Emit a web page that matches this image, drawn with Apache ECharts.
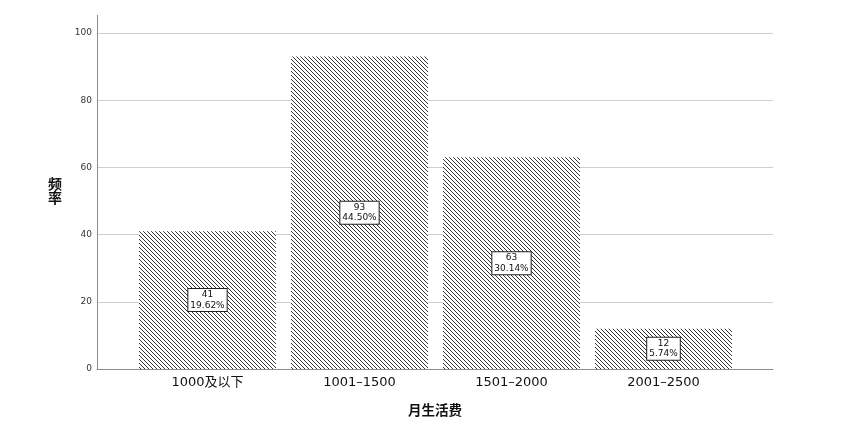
<!DOCTYPE html>
<html>
<head>
<meta charset="utf-8">
<script src="https://cdn.jsdelivr.net/npm/echarts@6/dist/echarts.min.js"></script>
<style>
  html, body { margin: 0; padding: 0; background: #fff; }
  #chart { width: 842px; height: 425px; }
</style>
</head>
<body>
<div id="chart"></div>
<script>
var categories = ['1000及以下', '1001–1500', '1501–2000', '2001–2500'];
var counts = [41, 93, 63, 12];
var percents = ['19.62%', '44.50%', '30.14%', '5.74%'];
var yTicks = [0, 20, 40, 60, 80, 100];

(function(){
  var el = document.getElementById('chart');
  var c = echarts.init(el, null, { renderer: 'canvas' });
  var font = '"DejaVu Sans", "Noto Sans CJK SC", sans-serif';
  var cjk = '"Noto Sans CJK SC", sans-serif';
  var axisGrey = '#8c8c8c';
  var gridGrey = '#cfcfcf';

  // diagonal hatch, lines running top-left to bottom-right
  function hatch() {
    var s = 4;
    var cv = document.createElement('canvas');
    cv.width = s; cv.height = s;
    var ctx = cv.getContext('2d');
    ctx.fillStyle = '#ffffff';
    ctx.fillRect(0, 0, s, s);
    ctx.strokeStyle = '#333333';
    ctx.lineWidth = 1;
    ctx.beginPath();
    ctx.moveTo(-1, -1); ctx.lineTo(s + 1, s + 1);
    ctx.moveTo(-1, s - 1); ctx.lineTo(1, s + 1);
    ctx.moveTo(s - 1, -1); ctx.lineTo(s + 1, 1);
    ctx.stroke();
    return cv;
  }

  var data = counts.map(function(v, i){
    return { value: v, pct: percents[i] };
  });

  c.setOption({
    animation: false,
    grid: [
      { left: 97, right: 69, top: 33, bottom: 56, containLabel: false },
      { left: 131.5, right: 102.5, top: 33, bottom: 56, containLabel: false }
    ],
    xAxis: [
      { gridIndex: 0, type: 'value', min: 0, max: 1,
        axisLine: { show: true, lineStyle: { color: axisGrey, width: 1 } },
        axisTick: { show: false }, axisLabel: { show: false }, splitLine: { show: false },
        name: '月生活费', nameLocation: 'middle', nameGap: 34,
        nameTextStyle: { color: '#111', fontSize: 13.5, fontWeight: 'bold', fontFamily: cjk } },
      { gridIndex: 1, type: 'category', data: categories, boundaryGap: true,
        axisLine: { show: false }, axisTick: { show: false },
        axisLabel: { color: '#111', fontSize: 13, margin: 7, fontFamily: font } }
    ],
    yAxis: [
      { gridIndex: 0, type: 'value', min: 0, max: 100, interval: 20,
        axisLine: { show: true, lineStyle: { color: axisGrey, width: 1 } },
        axisTick: { show: false },
        axisLabel: { color: '#333', fontSize: 9, margin: 5, fontFamily: font },
        splitLine: { show: true, lineStyle: { color: gridGrey, width: 1 } } },
      { gridIndex: 1, type: 'value', min: 0, max: 100, show: false }
    ],
    series: [{
      type: 'bar',
      xAxisIndex: 1, yAxisIndex: 1,
      data: data,
      barWidth: 137,
      itemStyle: {
        color: { image: hatch(), repeat: 'repeat' },
        borderWidth: 0
      },
      label: {
        show: true, position: 'inside',
        formatter: function(p){ return p.value + '\n' + p.data.pct; },
        color: '#111', fontSize: 9, lineHeight: 10.5, fontFamily: '"DejaVu Sans", sans-serif',
        backgroundColor: '#fff', borderColor: '#222', borderWidth: 1, padding: [1, 2, 0, 2],
        align: 'center'
      }
    }],
    graphic: [{
      type: 'line', silent: true,
      shape: { x1: 97.5, y1: 15, x2: 97.5, y2: 33 },
      style: { stroke: axisGrey, lineWidth: 1 }
    }, {
      // y axis title, stacked vertically
      type: 'text', silent: true,
      x: 55, y: 191,
      style: {
        text: '频\n率', fill: '#111', font: 'bold 14px ' + cjk,
        lineHeight: 14, align: 'center', verticalAlign: 'middle'
      }
    }]
  });
})();
</script>
</body>
</html>
